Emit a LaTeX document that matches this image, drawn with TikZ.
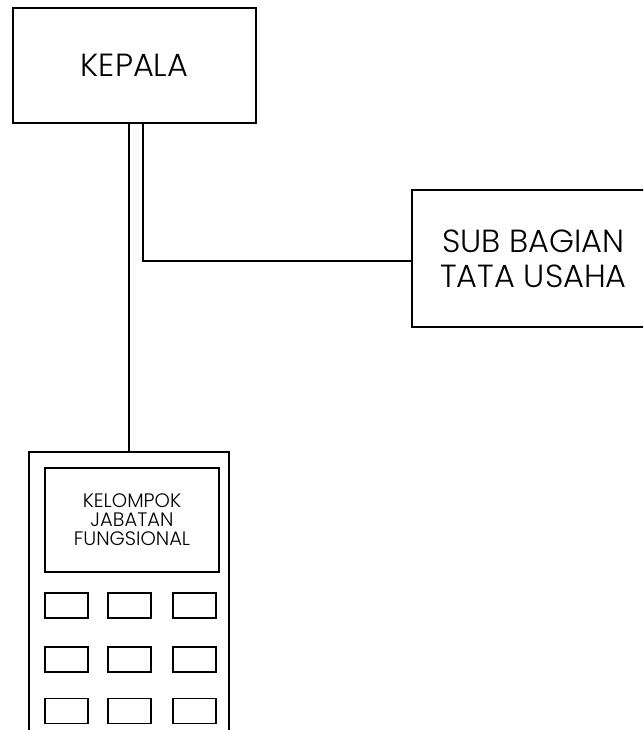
\documentclass[tikz,border=0pt]{standalone}
\usepackage{fontspec}
\setmainfont{Poppins}[UprightFont=* Light]
\begin{document}
\begin{tikzpicture}
  [x=1pt,y=-1pt,line width=1.5pt,
   every node/.style={draw,rectangle,align=center,inner sep=0pt},
   unitbox/.style={font=\fontsize{32}{35}\selectfont},
   keybox/.style={minimum width=43pt,minimum height=25pt}]
  \useasboundingbox (0,0) rectangle (643,730);
  \clip (0,0) rectangle (643,730);
  \node[unitbox,minimum width=243pt,minimum height=115pt] (kepala) at (134.5,65.5) {KEPALA};
  \node[unitbox,minimum width=243pt,minimum height=137pt] (sub) at (533.5,258.5) {SUB BAGIAN\\TATA USAHA};
  \node[minimum width=200pt,minimum height=300pt] (phone) at (129,602) {};
  \node[minimum width=174pt,minimum height=104pt,font=\fontsize{19.5}{19}\selectfont] (screen) at (132,520) {KELOMPOK\\JABATAN\\FUNGSIONAL};

  \foreach \r/\y in {1/605.5,2/659.5,3/711}
    \foreach \c/\x in {1/66.5,2/129.5,3/194.5}
      \node[keybox] (k\r\c) at (\x,\y) {};

  \coordinate (bend) at (143,261);
  \draw (kepala.south -| phone.north) -- (phone.north);
  \draw (kepala.south -| bend) -- (bend) -- (bend -| sub.west);
\end{tikzpicture}
\end{document}
